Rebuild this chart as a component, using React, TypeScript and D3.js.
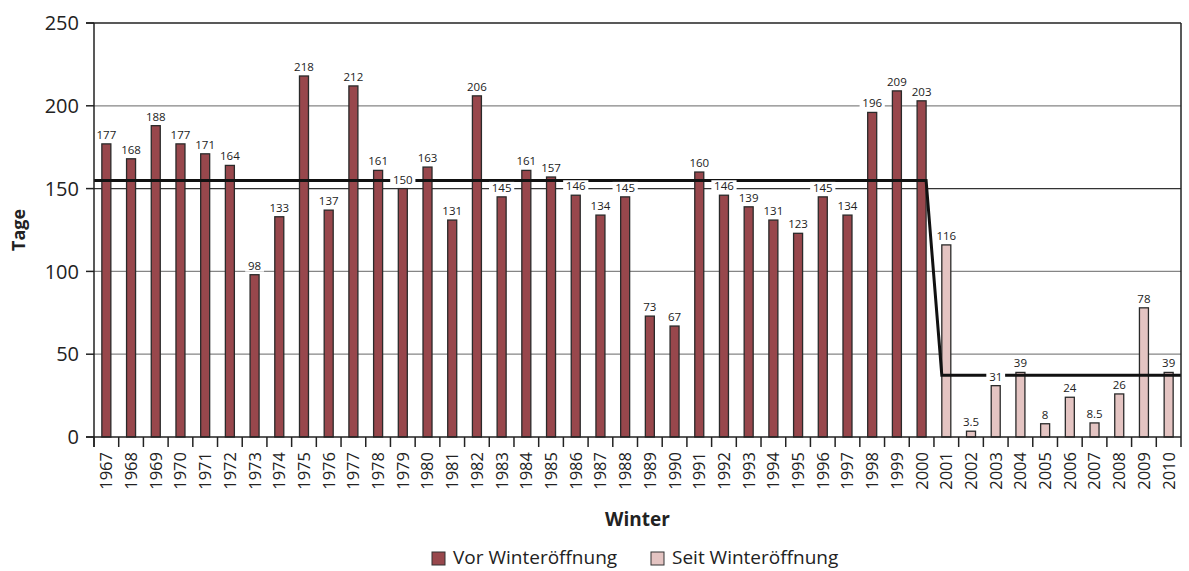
import React from "react";
import * as d3 from "d3";

const years = [
  "1967","1968","1969","1970","1971","1972","1973","1974","1975","1976","1977",
  "1978","1979","1980","1981","1982","1983","1984","1985","1986","1987","1988",
  "1989","1990","1991","1992","1993","1994","1995","1996","1997","1998","1999",
  "2000","2001","2002","2003","2004","2005","2006","2007","2008","2009","2010",
];
const tage = [
  177,168,188,177,171,164,98,133,218,137,212,
  161,150,163,131,206,145,161,157,146,134,145,
  73,67,160,146,139,131,123,145,134,196,209,
  203,116,3.5,31,39,8,24,8.5,26,78,39,
];
const firstOpenYear = "2001";
const yTicks = [0, 50, 100, 150, 200, 250];
const legendLabels = ["Vor Winteröffnung", "Seit Winteröffnung"];

const W = 1189, H = 571;
const left = 94, right = 1181, top = 23, bottom = 437;
const COL_BEFORE = "#98474c";
const COL_AFTER = "#e4c4c2";
const FONT = "'Open Sans', 'Liberation Sans', sans-serif";

export default function App() {
  const x = d3.scaleBand<string>().domain(years).range([left, right]).paddingInner(0).paddingOuter(0);
  const y = d3.scaleLinear().domain([0, 250]).range([bottom, top]);
  const bw = 9;
  const splitIdx = years.indexOf(firstOpenYear);
  const meanBefore = d3.mean(tage.slice(0, splitIdx)) as number;
  const meanAfter = d3.mean(tage.slice(splitIdx)) as number;
  const cx = (yr: string) => (x(yr) as number) + x.bandwidth() / 2;

  const lastBefore = years[splitIdx - 1];
  const line = d3.line<[number, number]>()([
    [left, y(meanBefore)],
    [cx(lastBefore) + bw / 2, y(meanBefore)],
    [cx(firstOpenYear) - bw / 2, y(meanAfter)],
    [right, y(meanAfter)],
  ]) as string;

  return (
    <svg width={W} height={H} style={{ position: "absolute", left: 0, top: 0, background: "#fff" }} fontFamily={FONT}>
      {yTicks.filter((t) => t > 0 && t < 250).map((t) => (
        <line key={t} x1={left} x2={right} y1={y(t)} y2={y(t)} stroke={t === 150 ? "#333" : "#858585"} strokeWidth={1.2} />
      ))}
      <line x1={86} x2={right} y1={y(250)} y2={y(250)} stroke="#222" strokeWidth={1.5} />
      {years.map((yr, i) => (
        <rect
          key={yr}
          x={cx(yr) - bw / 2}
          y={y(tage[i])}
          width={bw}
          height={bottom - y(tage[i])}
          fill={i < splitIdx ? COL_BEFORE : COL_AFTER}
          stroke="#2a2a2a"
          strokeWidth={1.3}
        />
      ))}
      <path d={line} fill="none" stroke="#111" strokeWidth={3} />
      {years.map((yr, i) => {
        const s = String(tage[i]);
        const tw = s.length * 6.4;
        const by = y(tage[i]) - 5;
        return (
          <g key={"l" + yr}>
            <rect x={cx(yr) - tw / 2 - 3} y={by - 10} width={tw + 6} height={12} fill="#fff" />
            <text x={cx(yr)} y={by} textAnchor="middle" fontSize={11.5} fill="#222">{s}</text>
          </g>
        );
      })}
      <line x1={left} x2={left} y1={top} y2={bottom + 10} stroke="#222" strokeWidth={1.5} />
      <line x1={right} x2={right} y1={top} y2={bottom + 10} stroke="#222" strokeWidth={1.5} />
      <line x1={86} x2={right} y1={bottom} y2={bottom} stroke="#222" strokeWidth={1.5} />
      {yTicks.map((t) => (
        <g key={"yt" + t}>
          <line x1={86} x2={left} y1={y(t)} y2={y(t)} stroke="#222" strokeWidth={1.5} />
          <text x={79} y={y(t)} dy="0.36em" textAnchor="end" fontSize={20} fill="#222">{t}</text>
        </g>
      ))}
      {years.map((yr) => (
        <line key={"xt" + yr} x1={x(yr) as number} x2={x(yr) as number} y1={bottom} y2={bottom + 10} stroke="#222" strokeWidth={1.5} />
      ))}
      {years.map((yr) => (
        <text
          key={"xl" + yr}
          transform={`translate(${cx(yr)},${bottom + 15}) rotate(-90)`}
          textAnchor="end"
          dy="0.36em"
          fontSize={16.5}
          fill="#222"
        >{yr}</text>
      ))}
      <text transform={`translate(25,${(top + bottom) / 2}) rotate(-90)`} textAnchor="middle" fontSize={18} fontWeight="bold" fill="#222">Tage</text>
      <text x={(left + right) / 2} y={526} textAnchor="middle" fontSize={19} fontWeight="bold" fill="#222">Winter</text>
      <rect x={432} y={552} width={13} height={13} fill={COL_BEFORE} stroke="#333" strokeWidth={1} />
      <text x={453} y={564} fontSize={19} fill="#222">{legendLabels[0]}</text>
      <rect x={651} y={552} width={13} height={13} fill={COL_AFTER} stroke="#333" strokeWidth={1} />
      <text x={672} y={564} fontSize={19} fill="#222">{legendLabels[1]}</text>
    </svg>
  );
}
